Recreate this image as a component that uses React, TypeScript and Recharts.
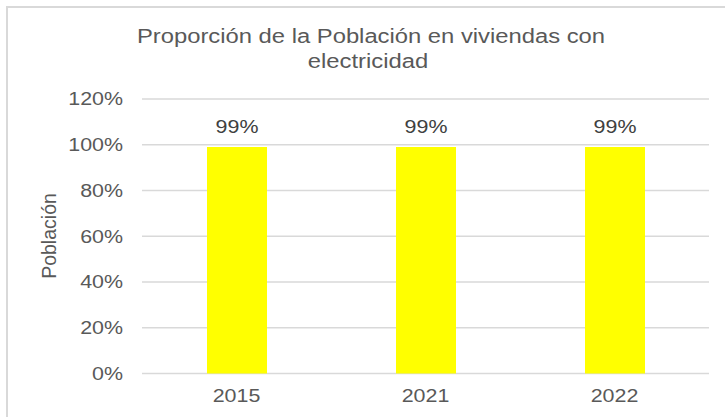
import React from 'react';
import { BarChart, Bar, XAxis, YAxis, CartesianGrid, LabelList } from 'recharts';

const categories = ['2015', '2021', '2022'];
const values = [0.99, 0.99, 0.99];
const yTicks = [0, 0.2, 0.4, 0.6, 0.8, 1.0, 1.2];
const titleLines = ['Proporción de la Población en viviendas con', 'electricidad'];
const yLabel = 'Población';

const data = categories.map((c, i) => ({ year: c, value: values[i] }));

const FONT = '"Liberation Sans", Arial, sans-serif';
const TEXT = '#595959';
const SX = 1.19;
const pct = (v: number) => `${Math.round(v * 100)}%`;

const WideText = ({ x, y, anchor, dy, size, fill, children }: any) => (
  <g transform={`translate(${x},${y}) scale(${SX},1)`}>
    <text x={0} y={0} dy={dy} textAnchor={anchor} fill={fill} fontSize={size} fontFamily={FONT}>
      {children}
    </text>
  </g>
);

const YTick = (props: any) => (
  <WideText x={props.x} y={props.y} anchor="end" dy="0.355em" size={18} fill={TEXT}>
    {pct(props.payload.value)}
  </WideText>
);

const XTick = (props: any) => (
  <WideText x={props.x} y={props.y} anchor="middle" dy="0.71em" size={18} fill={TEXT}>
    {props.payload.value}
  </WideText>
);

const BarLabel = (props: any) => (
  <WideText x={props.x + props.width / 2} y={props.y - 14} anchor="middle" dy={0} size={18} fill="#404040">
    {pct(Number(props.value))}
  </WideText>
);

export default function App() {
  return (
    <div style={{ position: 'absolute', left: 0, top: 0, width: 725, height: 417, overflow: 'hidden', background: '#fff', fontFamily: FONT }}>
      <div style={{ position: 'absolute', left: 6, top: 6, width: 800, height: 600, borderLeft: '2px solid #d9d9d9', borderTop: '2px solid #d9d9d9' }} />
      <BarChart
        width={725}
        height={417}
        data={data}
        margin={{ top: 99, right: 16, bottom: 13.5, left: 0 }}
        style={{ position: 'absolute', left: 0, top: 0 }}
      >
        <CartesianGrid vertical={false} stroke="#d9d9d9" strokeWidth={1.5} />
        <XAxis
          dataKey="year"
          axisLine={false}
          tickLine={false}
          tickSize={0}
          tickMargin={16}
          height={30}
          tick={<XTick />}
        />
        <YAxis
          domain={[0, 1.2]}
          ticks={yTicks}
          axisLine={false}
          tickLine={false}
          tickSize={0}
          tickMargin={19}
          width={142}
          interval={0}
          tick={<YTick />}
          label={{
            content: () => (
              <text
                x={49}
                y={236}
                transform="rotate(-90 49 236)"
                textAnchor="middle"
                dominantBaseline="central"
                fill={TEXT}
                fontSize={19.5}
                fontFamily={FONT}
              >
                {yLabel}
              </text>
            ),
          }}
        />
        <Bar dataKey="value" fill="#FFFF00" barSize={60} isAnimationActive={false}>
          <LabelList dataKey="value" content={<BarLabel />} />
        </Bar>
      </BarChart>
      <svg width={725} height={90} style={{ position: 'absolute', left: 0, top: 0 }}>
        <WideText x={371} y={43} anchor="middle" dy={0} size={20} fill={TEXT}>
          {titleLines[0]}
        </WideText>
        <WideText x={368} y={68} anchor="middle" dy={0} size={20} fill={TEXT}>
          {titleLines[1]}
        </WideText>
      </svg>
    </div>
  );
}
